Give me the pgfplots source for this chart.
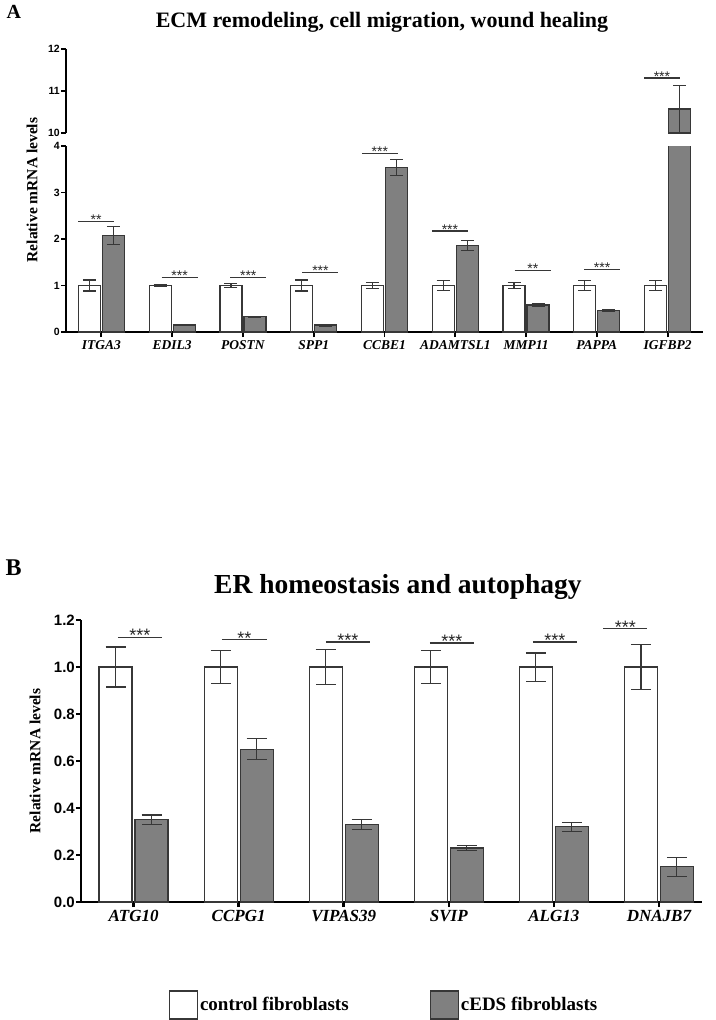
\documentclass[border=0pt]{standalone}
\usepackage{fontspec}
\setmainfont{Liberation Serif}
\newfontfamily\arial{Liberation Sans}
\usepackage{pgfplots}
\usepackage{pgfplotstable}
\pgfplotsset{compat=1.18}

% panel A: x, control, control err, cEDS, cEDS err
\pgfplotstableread{
x c ce e ee
0 1.00 0.12 2.08 0.19
1 1.00 0.03 0.15 0.01
2 1.00 0.04 0.33 0.01
3 1.00 0.12 0.15 0.02
4 1.00 0.07 3.54 0.17
5 1.00 0.10 1.86 0.10
6 1.00 0.07 0.58 0.04
7 1.00 0.10 0.47 0.02
8 1.00 0.11 10.57 0.57
}\dataA

% panel B
\pgfplotstableread{
x c ce e ee
0 1.00 0.085 0.35 0.020
1 1.00 0.070 0.65 0.045
2 1.00 0.075 0.33 0.020
3 1.00 0.070 0.23 0.010
4 1.00 0.060 0.32 0.020
5 1.00 0.095 0.15 0.040
}\dataB

\definecolor{bargray}{RGB}{128,128,128}
\definecolor{edge}{RGB}{55,55,55}

\pgfplotsset{
  commonax/.style={
    scale only axis,
    clip mode=individual,
    axis line style={-, line width=#1, black},
    every outer x axis line/.append style={-},
    every outer y axis line/.append style={-},
    every inner x axis line/.append style={-},
    every inner y axis line/.append style={-},
    tick style={line width=#1, black},
    major tick length=5pt,
    tick align=outside,
    /pgf/number format/assume math mode=true,
  },
  ctrl/.style={ybar, bar width=#1, fill=white, draw=edge, line width=1.2pt},
  ceds/.style={ybar, bar width=#1, fill=bargray, draw=edge, line width=1.2pt},
  errs/.style={draw=none, mark=none, forget plot,
    error bars/y dir=both, error bars/y explicit,
    error bars/error bar style={line width=1.2pt, draw=edge, solid},
    error bars/error mark options={rotate=90, line width=1.2pt, draw=edge, mark size=#1, solid}},
}
\tikzset{
  sigA/.style={line width=1.2pt, edge},
  starA/.style={midway, anchor=base, yshift=-3.3pt, inner sep=0pt, font=\arial\fontsize{14}{14}\selectfont, text=black!85},
  sigB/.style={line width=1.3pt, edge},
  starB/.style={midway, anchor=base, yshift=-4.5pt, inner sep=0pt, font=\arial\fontsize{18}{18}\selectfont, text=black!85},
}

\begin{document}
\begin{tikzpicture}
\useasboundingbox (0pt,0pt) rectangle (715pt,-1020pt);

% ---------------- Panel A lower ----------------
\begin{axis}[
  axis x line=bottom, axis y line=left,
  commonax=1.8pt,
  at={(66pt,-332pt)}, anchor=south west,
  width=637pt, height=186pt,
  xmin=-0.5, xmax=8.5, ymin=0, ymax=4,
  ytick={0,1,2,3,4},
  xtick={0,...,8},
  xticklabels={ITGA3,EDIL3,POSTN,SPP1,CCBE1,ADAMTSL1,MMP11,PAPPA,IGFBP2},
  xticklabel style={font=\bfseries\itshape\fontsize{13.5}{14}\selectfont},
  yticklabel style={font=\arial\bfseries\fontsize{10.5}{11}\selectfont, inner sep=1pt},
]
\addplot[ctrl=22pt, bar shift=-12pt] table[x=x, y=c] {\dataA};
\addplot[ceds=22pt, bar shift=12pt] table[x=x, y=e] {\dataA};
\addplot[errs=6.5pt] table[x expr=\thisrow{x}-0.17, y=c, y error=ce] {\dataA};
\addplot[errs=6.5pt] table[x expr=\thisrow{x}+0.17, y=e, y error=ee] {\dataA};
\draw[sigA] (axis cs:-0.33,2.38) -- (axis cs:0.18,2.38) node[starA]{**};
\draw[sigA] (axis cs:0.85,1.17) -- (axis cs:1.36,1.17) node[starA]{***};
\draw[sigA] (axis cs:1.82,1.17) -- (axis cs:2.33,1.17) node[starA]{***};
\draw[sigA] (axis cs:2.84,1.28) -- (axis cs:3.35,1.28) node[starA]{***};
\draw[sigA] (axis cs:3.68,3.84) -- (axis cs:4.19,3.84) node[starA]{***};
\draw[sigA] (axis cs:4.67,2.17) -- (axis cs:5.18,2.17) node[starA]{***};
\draw[sigA] (axis cs:5.84,1.32) -- (axis cs:6.35,1.32) node[starA]{**};
\draw[sigA] (axis cs:6.82,1.34) -- (axis cs:7.33,1.34) node[starA]{***};
\end{axis}

% ---------------- Panel A upper ----------------
\begin{axis}[
  axis x line=none, axis y line=left,
  commonax=1.8pt,
  at={(66pt,-133pt)}, anchor=south west,
  width=637pt, height=84pt,
  xmin=-0.5, xmax=8.5, ymin=10, ymax=12,
  ytick={10,11,12},
  xtick=\empty,
  yticklabel style={font=\arial\bfseries\fontsize{10.5}{11}\selectfont, inner sep=1pt},
]
\addplot[ceds=22pt, bar shift=12pt] table[x=x, y=e, skip coords between index={0}{8}] {\dataA};
\addplot[errs=6.5pt] table[x expr=\thisrow{x}+0.17, y=e, y error=ee, skip coords between index={0}{8}] {\dataA};
\draw[sigA] (axis cs:7.67,11.31) -- (axis cs:8.17,11.31) node[starA]{***};
\end{axis}

\node[anchor=base west, font=\bfseries\fontsize{20}{20}\selectfont] at (3pt,-18pt) {A};
\node[anchor=base, font=\bfseries\fontsize{22}{22}\selectfont] at (382pt,-27pt) {ECM remodeling, cell migration, wound healing};
\node[rotate=90, font=\bfseries\fontsize{15.5}{16}\selectfont] at (32pt,-190pt) {Relative mRNA levels};

% ---------------- Panel B ----------------
\begin{axis}[
  axis x line=bottom, axis y line=left,
  commonax=2.4pt,
  at={(81pt,-902pt)}, anchor=south west,
  width=621pt, height=282pt,
  xmin=-0.5, xmax=5.41, ymin=0, ymax=1.2,
  ytick={0,0.2,...,1.2},
  xtick={0,...,5},
  xticklabels={ATG10,CCPG1,VIPAS39,SVIP,ALG13,DNAJB7},
  xticklabel style={font=\bfseries\itshape\fontsize{17}{18}\selectfont},
  yticklabel style={font=\arial\bfseries\fontsize{15}{16}\selectfont, inner sep=1pt,
    /pgf/number format/.cd, fixed, fixed zerofill, precision=1},
  legend columns=2,
  legend style={at={(0.488,-0.365)}, anchor=center, draw=none, fill=none,
    font=\bfseries\fontsize{19}{20}\selectfont,
    nodes={inner sep=2pt},
    /tikz/every even column/.append style={column sep=79pt}},
]
\addplot[ctrl=33pt, bar shift=-18pt, forget plot] table[x=x, y=c] {\dataB};
\addplot[ceds=33pt, bar shift=18pt, forget plot] table[x=x, y=e] {\dataB};
\addplot[errs=10pt] table[x expr=\thisrow{x}-0.171, y=c, y error=ce] {\dataB};
\addplot[errs=10pt] table[x expr=\thisrow{x}+0.171, y=e, y error=ee] {\dataB};
\addlegendimage{legend image code/.code={\draw[fill=white, draw=edge, line width=1.2pt] (0pt,-14pt) rectangle (28pt,14pt);}}
\addlegendentry{control fibroblasts}
\addlegendimage{legend image code/.code={\draw[fill=bargray, draw=edge, line width=1.2pt] (0pt,-14pt) rectangle (28pt,14pt);}}
\addlegendentry{cEDS fibroblasts}
\draw[sigB] (axis cs:-0.15,1.126) -- (axis cs:0.27,1.126) node[starB]{***};
\draw[sigB] (axis cs:0.84,1.116) -- (axis cs:1.27,1.116) node[starB]{**};
\draw[sigB] (axis cs:1.83,1.107) -- (axis cs:2.25,1.107) node[starB]{***};
\draw[sigB] (axis cs:2.82,1.102) -- (axis cs:3.24,1.102) node[starB]{***};
\draw[sigB] (axis cs:3.80,1.107) -- (axis cs:4.22,1.107) node[starB]{***};
\draw[sigB] (axis cs:4.47,1.163) -- (axis cs:4.89,1.163) node[starB]{***};
\end{axis}

\node[anchor=base west, font=\bfseries\fontsize{24}{24}\selectfont] at (2pt,-575pt) {B};
\node[anchor=base, font=\bfseries\fontsize{27.5}{28}\selectfont] at (398pt,-593pt) {ER homeostasis and autophagy};
\node[rotate=90, font=\bfseries\fontsize{15.5}{16}\selectfont] at (35pt,-761pt) {Relative mRNA levels};
\end{tikzpicture}
\end{document}
